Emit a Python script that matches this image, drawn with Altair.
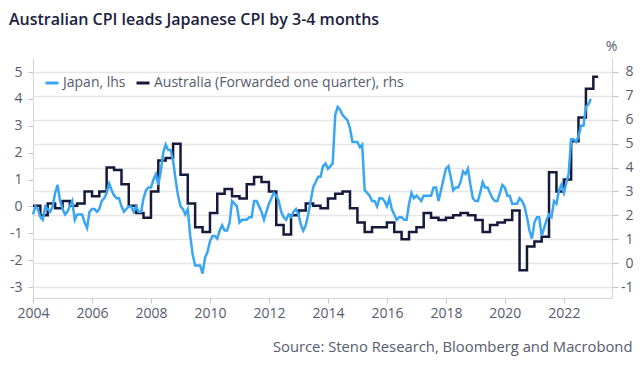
import altair as alt
import pandas as pd

TITLE = "Australian CPI leads Japanese CPI by 3-4 months"
SOURCE = "Source: Steno Research, Bloomberg and Macrobond"
JP_LABEL = "Japan, lhs"
AU_LABEL = "Australia (Forwarded one quarter), rhs"
UNIT = "%"

# Japan CPI YoY (%), monthly, Jan 2004 - Dec 2022
japan_start = "2004-01-01"
japan_yoy = [
    -0.3, 0.0, -0.1, -0.4, -0.5, 0.0, -0.1, -0.2, 0.0, 0.5, 0.8, 0.2,    # 2004
    -0.1, -0.3, -0.2, 0.0, 0.2, -0.5, -0.3, -0.3, -0.3, -0.6, -0.8, -0.2,  # 2005
    -0.1, -0.1, -0.2, -0.1, 0.2, 0.3, 0.5, 0.85, 0.6, 0.4, 0.3, 0.3,     # 2006
    0.0, -0.2, -0.1, 0.0, 0.0, -0.2, 0.0, -0.2, -0.2, 0.3, 0.6, 0.7,     # 2007
    0.7, 1.0, 1.2, 0.8, 1.3, 2.0, 2.3, 2.1, 2.1, 1.7, 1.0, 0.4,          # 2008
    0.0, -0.1, -0.3, -0.1, -1.1, -1.8, -2.2, -2.2, -2.2, -2.5, -1.9, -1.7,  # 2009
    -1.3, -1.1, -1.1, -1.2, -0.9, -0.7, -0.9, -0.9, -0.6, 0.2, 0.1, 0.0,  # 2010
    -0.6, -0.5, -0.5, -0.5, -0.4, -0.4, 0.2, 0.2, 0.0, -0.2, -0.5, -0.2,  # 2011
    0.1, 0.3, 0.5, 0.4, 0.2, -0.2, -0.4, -0.5, -0.3, -0.4, -0.2, -0.1,   # 2012
    -0.3, -0.7, -0.9, -0.7, -0.3, 0.2, 0.7, 0.9, 1.1, 1.1, 1.5, 1.6,     # 2013
    1.4, 1.5, 1.6, 3.4, 3.7, 3.6, 3.4, 3.3, 3.2, 2.9, 2.4, 2.4,          # 2014
    2.4, 2.2, 2.3, 0.6, 0.5, 0.4, 0.2, 0.2, 0.0, 0.3, 0.3, 0.2,          # 2015
    0.0, 0.3, -0.1, -0.3, -0.5, -0.4, -0.4, -0.5, -0.5, 0.1, 0.5, 0.3,   # 2016
    0.4, 0.3, 0.2, 0.4, 0.4, 0.4, 0.4, 0.7, 0.7, 0.2, 0.6, 1.0,          # 2017
    1.4, 1.5, 1.1, 0.6, 0.7, 0.7, 0.9, 1.3, 1.2, 1.4, 0.8, 0.3,          # 2018
    0.2, 0.2, 0.5, 0.9, 0.7, 0.7, 0.5, 0.3, 0.2, 0.2, 0.5, 0.8,          # 2019
    0.7, 0.4, 0.4, 0.1, 0.1, 0.1, 0.3, 0.2, 0.0, -0.4, -0.9, -1.2,       # 2020
    -0.6, -0.4, -0.4, -1.1, -0.8, -0.5, -0.3, -0.4, 0.2, 0.1, 0.6, 0.8,  # 2021
    0.5, 0.9, 1.2, 2.5, 2.5, 2.4, 2.6, 3.0, 3.0, 3.7, 3.8, 4.0,          # 2022
]

# Australia CPI YoY (%), quarterly, forwarded one quarter, 2004Q1 - 2023Q1
aus_start = "2004-01-01"
aus_yoy = [
    2.4, 2.0, 2.5, 2.3,   # 2004
    2.6, 2.4, 2.5, 3.0,   # 2005
    2.8, 3.0, 4.0, 3.9,   # 2006
    3.3, 2.4, 2.1, 1.9,   # 2007
    3.0, 4.3, 4.4, 5.0,   # 2008
    3.7, 2.5, 1.5, 1.3,   # 2009
    2.1, 2.9, 3.1, 2.8,   # 2010
    2.7, 3.3, 3.6, 3.4,   # 2011
    3.0, 1.6, 1.2, 2.0,   # 2012
    2.2, 2.5, 2.4, 2.3,   # 2013
    2.7, 2.9, 3.0, 2.3,   # 2014
    1.7, 1.3, 1.5, 1.5,   # 2015
    1.7, 1.3, 1.0, 1.3,   # 2016
    1.5, 2.1, 1.9, 1.8,   # 2017
    1.9, 2.0, 2.1, 2.0,   # 2018
    1.8, 1.3, 1.6, 1.7,   # 2019
    1.8, 2.2, -0.3, 0.7,  # 2020
    0.9, 1.1, 3.8, 3.0,   # 2021
    3.5, 5.1, 6.1, 7.3,   # 2022
    7.8,                  # 2023
]
aus_last_date = "2023-03-01"

left_ticks = [-3, -2, -1, 0, 1, 2, 3, 4, 5]
right_ticks = [-1, 0, 1, 2, 3, 4, 5, 6, 7, 8]

BLUE = "#38a6f2"
NAVY = "#151a3b"
TEXT = "#565b6e"
FONT = "Open Sans"

jp = pd.DataFrame({
    "date": pd.date_range(japan_start, periods=len(japan_yoy), freq="MS"),
    "value": japan_yoy,
    "series": JP_LABEL,
})
aus_dates = list(pd.date_range(aus_start, periods=len(aus_yoy), freq="QS")) + [pd.Timestamp(aus_last_date)]
au = pd.DataFrame({
    "date": aus_dates,
    "value": aus_yoy + [aus_yoy[-1]],
    "series": AU_LABEL,
})

W, H = 579, 240

x_enc = alt.X(
    "date:T",
    scale=alt.Scale(domain=[alt.DateTime(year=2004, month=1, date=1),
                            alt.DateTime(year=2023, month=8, date=20)]),
    axis=alt.Axis(
        format="%Y", tickCount={"interval": "year", "step": 2},
        labelFlush=False, labelOverlap=False,
        title=SOURCE, titleX=599, titleY=53, titleAlign="right",
        titleBaseline="alphabetic", titleFontSize=14.8, titleFontWeight="normal",
        titleColor=TEXT, titleFont=FONT,
        labelPadding=3, tickSize=5, grid=False,
    ),
)

color = alt.Color(
    "series:N",
    scale=alt.Scale(domain=[JP_LABEL, AU_LABEL], range=[BLUE, NAVY]),
    legend=alt.Legend(
        title=None, orient="none", legendX=11, legendY=17, direction="horizontal",
        symbolType="stroke", symbolSize=169, symbolStrokeWidth=3,
        labelFontSize=14, labelColor=TEXT, labelFont=FONT, labelOffset=3,
        labelLimit=0, columnPadding=4,
    ),
)

au_layer = alt.Chart(au).mark_line(interpolate="step-after", strokeWidth=2.5).encode(
    x=x_enc,
    y=alt.Y(
        "value:Q",
        scale=alt.Scale(domain=[-1.46, 8.586], nice=False, zero=False),
        axis=alt.Axis(
            orient="right", values=right_ticks, grid=True, tickSize=6,
            labelAlign="right", labelPadding=15, labelExpr="'' + datum.value",
            title=UNIT, titleAngle=0, titleX=-1, titleY=-12, titleAlign="center",
            titleBaseline="middle", titleFontSize=14, titleFontWeight="normal",
            titleColor=TEXT, titleFont=FONT,
        ),
    ),
    color=color,
)

jp_layer = alt.Chart(jp).mark_line(strokeWidth=2.5).encode(
    x=x_enc,
    y=alt.Y(
        "value:Q",
        scale=alt.Scale(domain=[-3.409, 5.521], nice=False, zero=False),
        axis=alt.Axis(orient="left", values=left_ticks, grid=False, tickSize=5,
                      labelPadding=6, labelExpr="'' + datum.value", title=None),
    ),
    color=color,
)

chart = alt.layer(au_layer, jp_layer).resolve_scale(y="independent").properties(
    width=W, height=H,
    autosize=alt.AutoSizeParams(type="none"),
    padding={"left": 25, "top": 50, "right": 22, "bottom": 61},
    title=alt.Title(TITLE, anchor="start", frame="group", dx=-24, offset=11,
                    fontSize=16, fontWeight=600, color="#1b2140", font=FONT),
).configure_axis(
    labelFontSize=14, labelColor=TEXT, labelFont=FONT,
    domainColor="#d6d6d6", tickColor="#c4c4c4", gridColor="#e6e6e6", gridWidth=1.5,
).configure_view(stroke=None)

chart.save("out.html", embed_options={"renderer": "svg", "actions": False})
